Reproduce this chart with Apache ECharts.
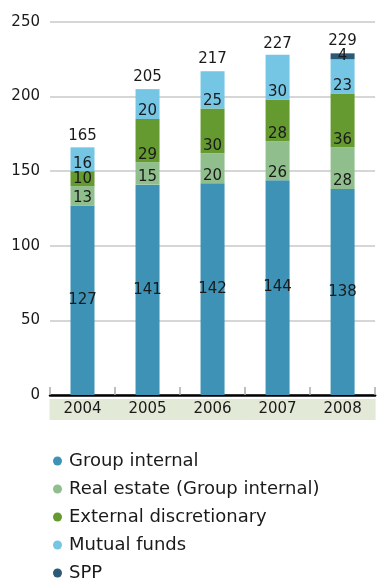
<!DOCTYPE html>
<html>
<head>
<meta charset="utf-8">
<script src="https://cdn.jsdelivr.net/npm/echarts@6/dist/echarts.min.js"></script>
<style>
  html, body { margin: 0; padding: 0; background: #ffffff; }
  #chart { width: 378px; height: 581px; }
</style>
</head>
<body>
<div id="chart"></div>
<script>
// Assets under management by category, 2004–2008
var years = ['2004', '2005', '2006', '2007', '2008'];
var groupInternal = [127, 141, 142, 144, 138];
var realEstate = [13, 15, 20, 26, 28];
var externalDiscretionary = [10, 29, 30, 28, 36];
var mutualFunds = [16, 20, 25, 30, 23];
var spp = [null, null, null, null, 4];
var totals = [165, 205, 217, 227, 229];
var yTicks = { min: 0, max: 250, interval: 50 };

var FONT = 'DejaVu Sans';
var TXT = '#1a1a1a';

function segment(name, values, color, position) {
  return {
    name: name,
    type: 'bar',
    stack: 'total',
    barWidth: 24,
    data: values,
    itemStyle: { color: color },
    label: {
      show: true,
      position: position,
      distance: 0,
      color: TXT,
      fontFamily: FONT,
      fontSize: 15,
      formatter: function (p) { return p.value == null ? '' : p.value; }
    }
  };
}

var chart = echarts.init(document.getElementById('chart'), null, { renderer: 'canvas' });
chart.setOption({
  animation: false,
  backgroundColor: '#ffffff',
  grid: { left: 50, top: 22, width: 331, bottom: 186, containLabel: false },
  xAxis: {
    type: 'category',
    data: years,
    axisLine: { lineStyle: { color: '#000000', width: 2.5 } },
    axisTick: { show: true, inside: true, length: 8, lineStyle: { color: '#aaaaaa', width: 1.5 } },
    axisLabel: {
      interval: 0,
      hideOverlap: false,
      margin: 4,
      color: TXT,
      fontFamily: FONT,
      fontSize: 15,
      backgroundColor: '#e2e9d7',
      width: 66,
      height: 21,
      lineHeight: 21,
      align: 'center'
    }
  },
  yAxis: {
    type: 'value',
    min: yTicks.min,
    max: yTicks.max,
    interval: yTicks.interval,
    axisLine: { show: false },
    axisTick: { show: false },
    axisLabel: { margin: 10, color: TXT, fontFamily: FONT, fontSize: 15 },
    splitLine: { lineStyle: { color: '#c8c8c8', width: 1.5 } }
  },
  legend: {
    orient: 'vertical',
    left: 48,
    top: 447,
    height: 200,
    icon: 'circle',
    itemWidth: 9,
    itemHeight: 9,
    itemGap: 10,
    data: ['Group internal', 'Real estate (Group internal)', 'External discretionary', 'Mutual funds', 'SPP'],
    textStyle: { color: TXT, fontFamily: FONT, fontSize: 18, padding: [0, 0, 0, 2] }
  },
  series: [
    segment('Group internal', groupInternal, '#3d92b5', 'inside'),
    segment('Real estate (Group internal)', realEstate, '#90bf8d', 'insideBottom'),
    segment('External discretionary', externalDiscretionary, '#659a31', 'insideBottom'),
    segment('Mutual funds', mutualFunds, '#75c6e5', 'insideBottom'),
    segment('SPP', spp, '#2b5a78', 'inside'),
    {
      name: 'Total',
      type: 'bar',
      barWidth: 24,
      barGap: '-100%',
      data: totals,
      itemStyle: { color: 'transparent' },
      silent: true,
      z: 1,
      label: { show: true, position: 'top', distance: 5, color: TXT, fontFamily: FONT, fontSize: 15 }
    }
  ]
});
</script>
</body>
</html>
